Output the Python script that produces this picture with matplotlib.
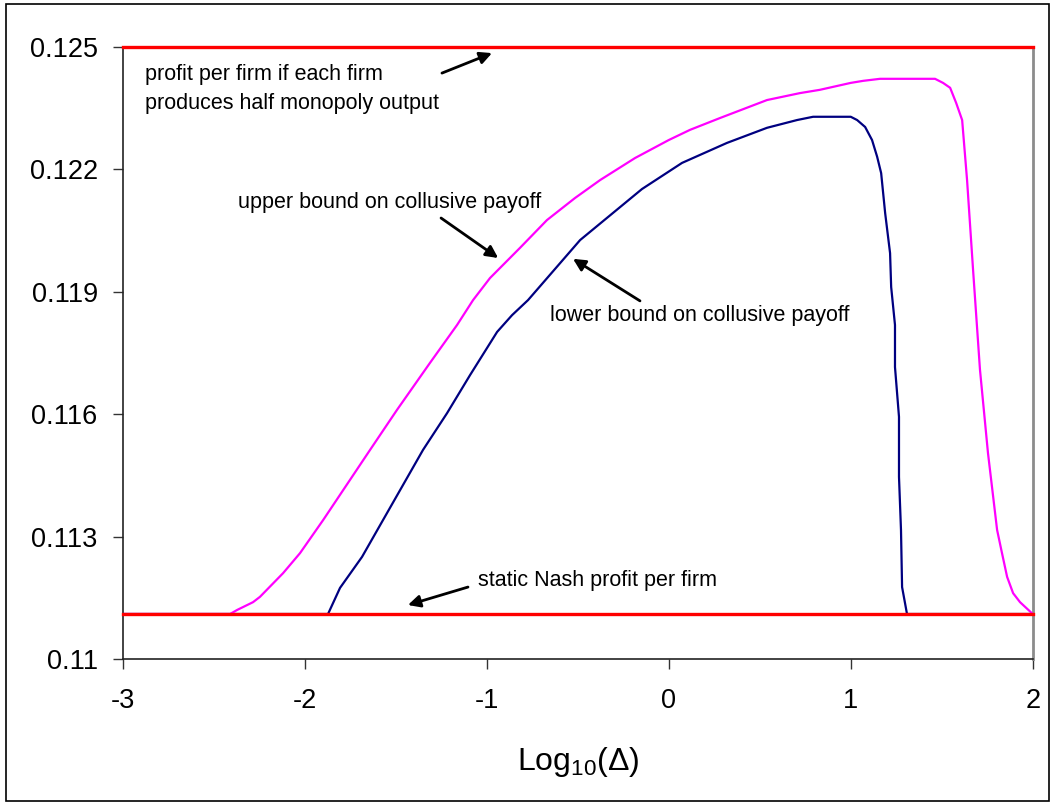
import matplotlib
matplotlib.use("Agg")
from matplotlib import pyplot as plt
from matplotlib.patches import Rectangle

plt.rcParams['font.family'] = ['Liberation Sans', 'DejaVu Sans']
plt.rcParams['mathtext.fontset'] = 'custom'
plt.rcParams['mathtext.rm'] = 'Liberation Sans'

# upper bound on collusive payoff (magenta)
upper_x = [-3.0, -2.410, -2.371, -2.284, -2.246, -2.119, -2.026, -1.899, -1.641, -1.493,
           -1.312, -1.163, -1.075, -0.982, -0.817, -0.669, -0.515, -0.377, -0.185, 0.0,
           0.117, 0.282, 0.540, 0.721, 0.830, 1.0, 1.068, 1.161, 1.463, 1.507, 1.546,
           1.579, 1.612, 1.639, 1.672, 1.710, 1.754, 1.804, 1.831, 1.859, 1.892, 1.930, 2.0]
upper_y = [0.11111, 0.11111, 0.11121, 0.11140, 0.11153, 0.11211, 0.11260, 0.11341, 0.11513,
           0.11611, 0.11726, 0.11819, 0.11880, 0.11934, 0.12008, 0.12076, 0.12130, 0.12174,
           0.12228, 0.12272, 0.12297, 0.12326, 0.12370, 0.12387, 0.12395, 0.12412, 0.12417,
           0.12422, 0.12422, 0.12412, 0.12400, 0.12363, 0.12321, 0.12174, 0.11954, 0.11709,
           0.11505, 0.11317, 0.11260, 0.11202, 0.11162, 0.11140, 0.11111]

# lower bound on collusive payoff (navy)
lower_x = [-3.0, -1.872, -1.806, -1.685, -1.570, -1.350, -1.218, -1.092, -0.943, -0.861,
           -0.773, -0.487, -0.147, 0.073, 0.320, 0.540, 0.705, 0.793, 1.0, 1.035, 1.079,
           1.117, 1.145, 1.167, 1.189, 1.216, 1.222, 1.243, 1.243, 1.265, 1.265, 1.276,
           1.282, 1.298, 1.309, 2.0]
lower_y = [0.11111, 0.11111, 0.11175, 0.11251, 0.11341, 0.11513, 0.11603, 0.11696, 0.11802,
           0.11843, 0.11880, 0.12027, 0.12152, 0.12216, 0.12265, 0.12302, 0.12321, 0.12329,
           0.12329, 0.12321, 0.12304, 0.12272, 0.12231, 0.12191, 0.12093, 0.11995, 0.11912,
           0.11819, 0.11716, 0.11594, 0.11447, 0.11317, 0.11177, 0.11138, 0.11111, 0.11111]

half_monopoly = 0.125
static_nash = 1.0 / 9.0

x_ticks = [-3, -2, -1, 0, 1, 2]
y_ticks = [0.11, 0.113, 0.116, 0.119, 0.122, 0.125]
y_tick_labels = ['0.11', '0.113', '0.116', '0.119', '0.122', '0.125']

fig = plt.figure(figsize=(10.56, 8.07), dpi=100)
ax = fig.add_axes([0.1162, 0.183, 0.8618, 0.7588])

ax.plot(lower_x, lower_y, color='#000080', lw=1.6, zorder=3)
ax.plot(upper_x, upper_y, color='#ff00ff', lw=1.6, zorder=3)
ax.plot([-3, 2], [half_monopoly, half_monopoly], color='#ff0000', lw=2.4, zorder=4, clip_on=False)
ax.plot([-3, 2], [static_nash, static_nash], color='#ff0000', lw=2.4, zorder=4, clip_on=False)

ax.set_xlim(-3, 2)
ax.set_ylim(0.11, 0.125)
ax.set_xticks(x_ticks)
ax.set_xticklabels([str(t) for t in x_ticks])
ax.set_yticks(y_ticks)
ax.set_yticklabels(y_tick_labels)
ax.tick_params(axis='both', direction='out', length=7, width=1, color='#333333',
               labelsize=19.5, pad=11)
ax.tick_params(axis='x', pad=14)

for s in ['left', 'bottom']:
    ax.spines[s].set_color('#222222')
    ax.spines[s].set_linewidth(1.2)
for s in ['right', 'top']:
    ax.spines[s].set_color('#8c8c8c')
    ax.spines[s].set_linewidth(2)

ax.set_xlabel(r'Log$_{\mathregular{10}}$($\Delta$)', fontsize=23, labelpad=22)

fs = 15.5
ax.text(-2.877, 0.12433, 'profit per firm if each firm', fontsize=fs, va='center')
ax.text(-2.877, 0.12362, 'produces half monopoly output', fontsize=fs, va='center')
ax.text(-2.366, 0.12118, 'upper bound on collusive payoff', fontsize=fs, va='center')
ax.text(-0.651, 0.11841, 'lower bound on collusive payoff', fontsize=fs, va='center')
ax.text(-1.048, 0.11194, 'static Nash profit per firm', fontsize=fs, va='center')

arrow = dict(arrowstyle='-|>', color='black', lw=2, mutation_scale=18, shrinkA=0, shrinkB=0)
ax.annotate('', xy=(-0.971, 0.12485), xytext=(-1.246, 0.12436), arrowprops=arrow)
ax.annotate('', xy=(-0.937, 0.11983), xytext=(-1.251, 0.12081), arrowprops=arrow)
ax.annotate('', xy=(-0.526, 0.11981), xytext=(-0.158, 0.11878), arrowprops=arrow)
ax.annotate('', xy=(-1.433, 0.11133), xytext=(-1.103, 0.11177), arrowprops=arrow)

fig.patches.append(Rectangle((6 / 1056, 6 / 807), 1043 / 1056, 797 / 807, transform=fig.transFigure,
                             fill=False, edgecolor='black', lw=1.2))

plt.savefig('out.png', dpi=100)
